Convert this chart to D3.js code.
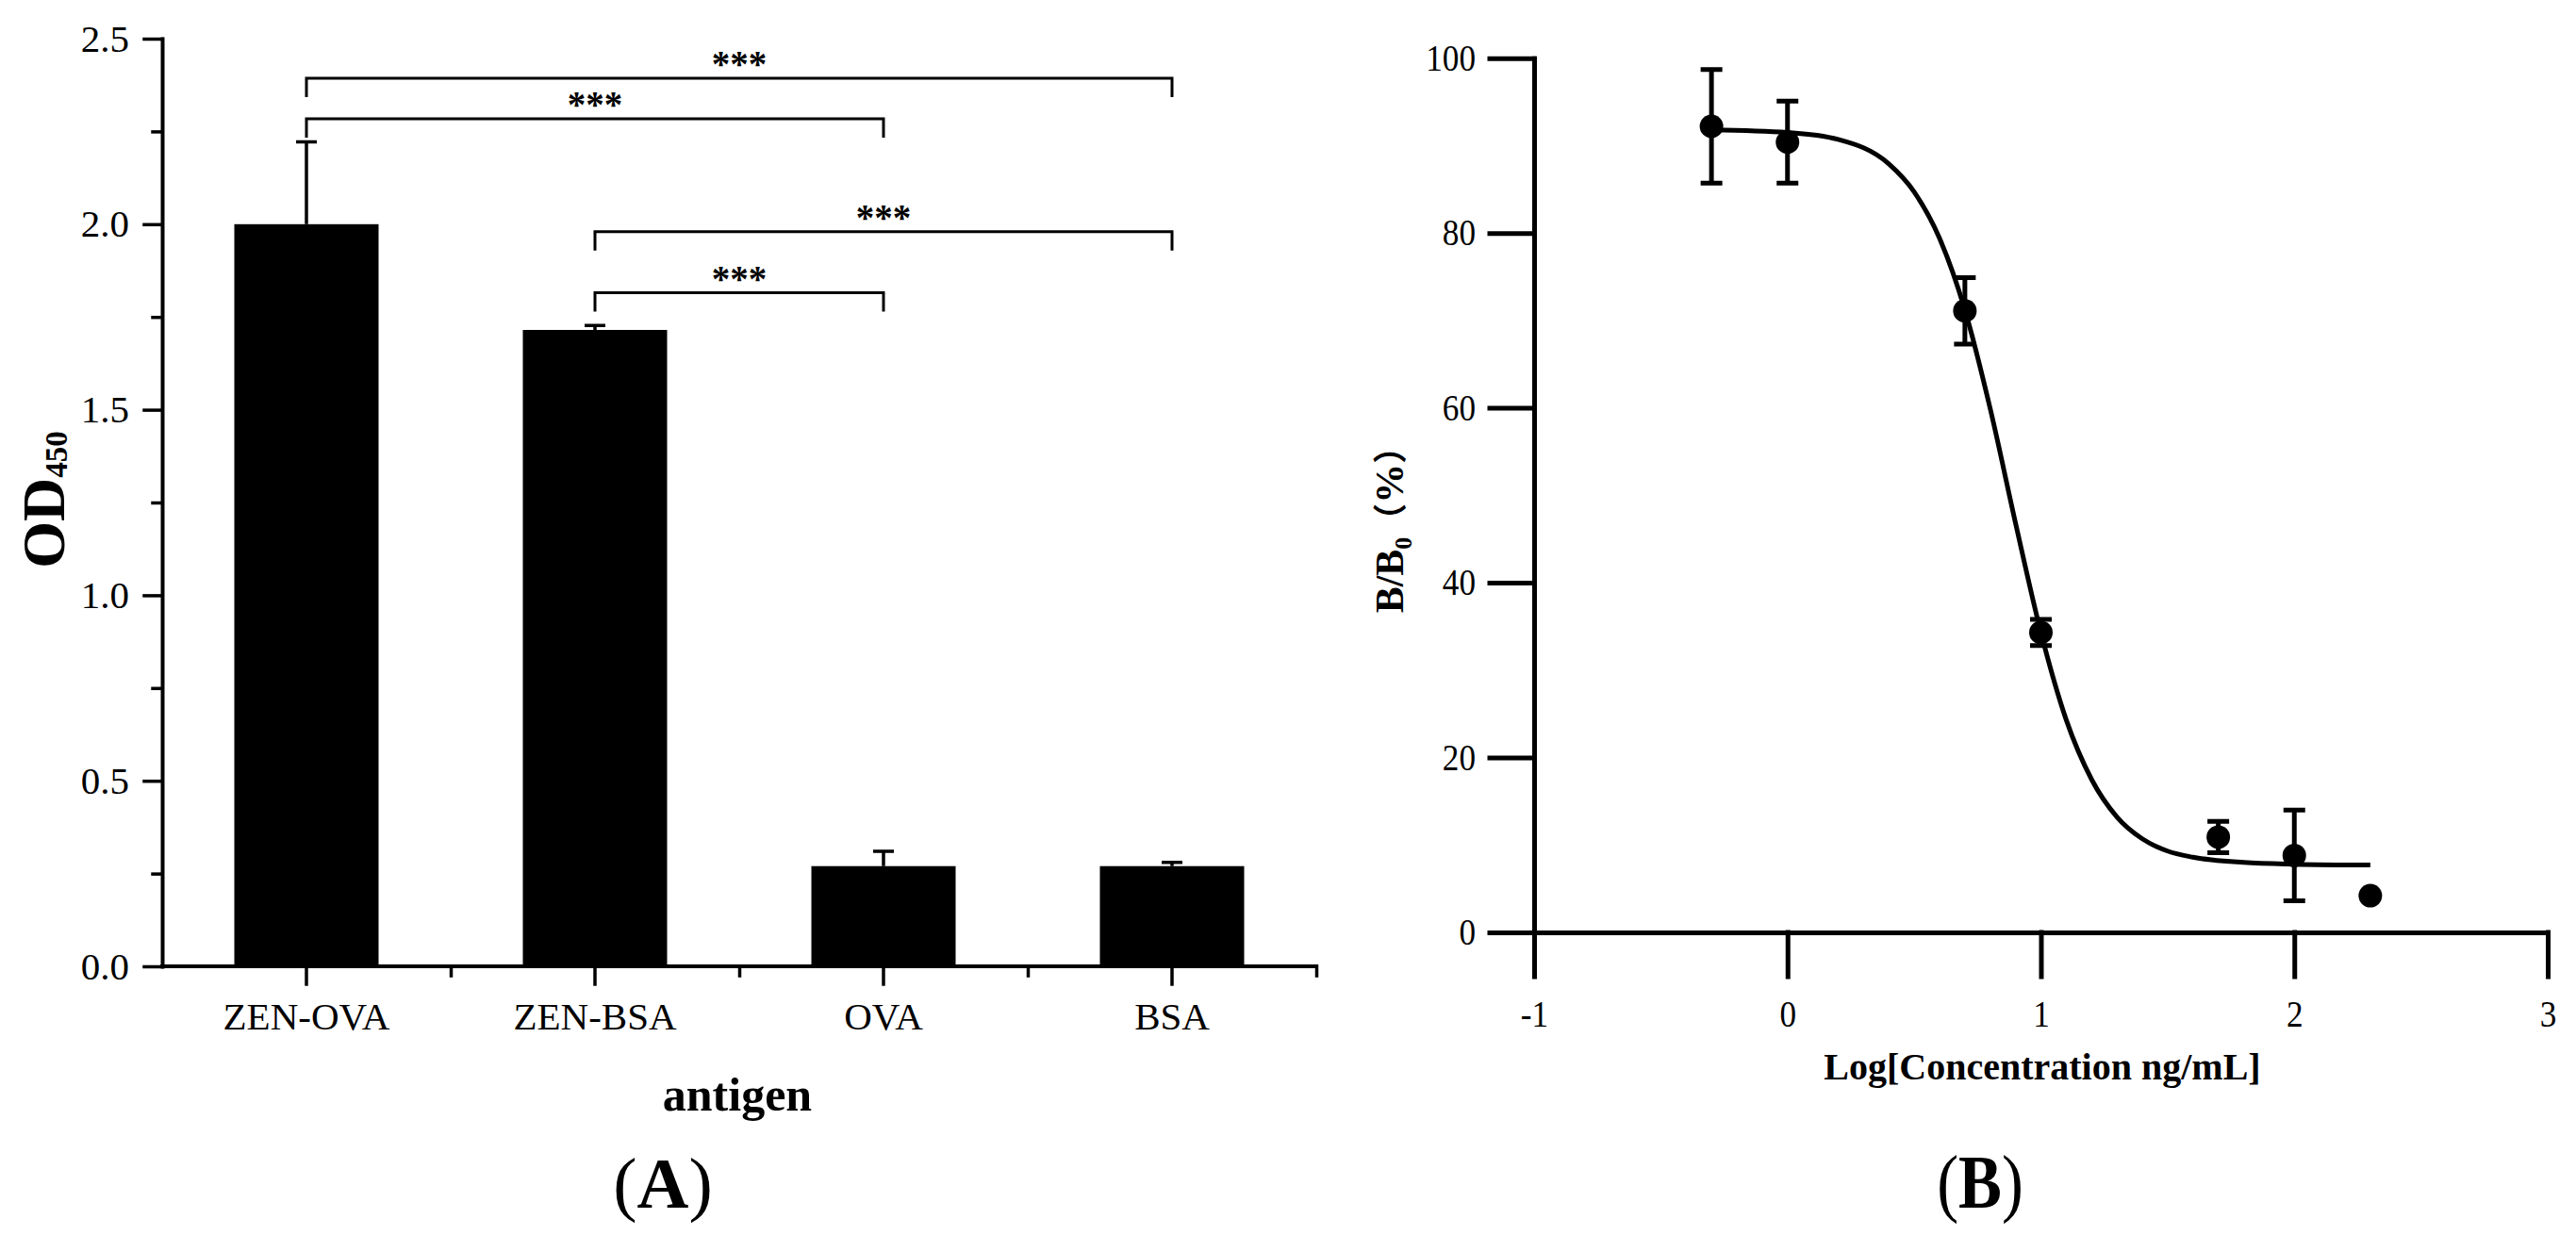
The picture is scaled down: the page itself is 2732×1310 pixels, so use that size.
<!DOCTYPE html>
<meta charset="utf-8">
<head>
    <style type="text/css">
        body { margin: 0; background: #fff; overflow: hidden; }
        text { font-family: "Liberation Serif", "Times New Roman", serif; fill: #000; }
        .axis path, .axis line { stroke: #000; stroke-linecap: square; }
        .bar { fill: #000; }
        .err, .bracket, .curve { fill: none; stroke: #000; }
        .dot { fill: #000; }
    </style>
</head>
<body>
    <script src="https://d3js.org/d3.v7.min.js"></script>
    <script>
        // ---- panel A data: OD450 per coating antigen ----
        var categories = ["ZEN-OVA", "ZEN-BSA", "OVA", "BSA"];
        var odMeans = [2.0, 1.715, 0.27, 0.27];
        var odErrors = [0.222, 0.012, 0.04, 0.01];
        var yTicksA = [0, 0.5, 1.0, 1.5, 2.0, 2.5];
        var yMinorA = [0.25, 0.75, 1.25, 1.75, 2.25];

        // significance brackets (from, to, height in OD units, label)
        var sigFrom = ["ZEN-OVA", "ZEN-OVA", "ZEN-BSA", "ZEN-BSA"];
        var sigTo = ["BSA", "OVA", "BSA", "OVA"];
        var sigLevel = [2.393, 2.284, 1.98, 1.815];
        var sigLabel = ["***", "***", "***", "***"];

        // ---- panel B data: inhibition curve ----
        var logConc = [-0.3, 0, 0.7, 1, 1.7, 2, 2.3];
        var bb0 = [92.2, 90.4, 71.1, 34.3, 10.9, 8.8, 4.2];
        var bb0Err = [6.5, 4.7, 3.8, 1.5, 1.8, 5.2, 0];
        // fitted curve
        var fitX = [-0.3, 0, 0.2, 0.4, 0.5, 0.6, 0.7, 0.8, 0.9, 1.0, 1.1, 1.2, 1.3, 1.4, 1.5, 1.6, 1.8, 2.0, 2.3];
        var fitY = [91.8, 91.5, 90.7, 87.9, 84.7, 79.4, 71.2, 59.9, 46.8, 34.3, 24.3, 17.5, 13.2, 10.7, 9.3, 8.6, 8.0, 7.8, 7.7];
        var xTicksB = [-1, 0, 1, 2, 3];
        var yTicksB = [0, 20, 40, 60, 80, 100];

        var W = 2732, H = 1310;
        var svg = d3.select("body").append("svg")
            .attr("width", W)
            .attr("height", H);

        // ================= Panel A =================
        var xA = d3.scaleBand()
            .domain(categories)
            .range([172, 1396])
            .paddingInner(0.5)
            .paddingOuter(0.25);
        var xIndexA = d3.scaleLinear().domain([0, categories.length]).range([172, 1396]);
        var yA = d3.scaleLinear().domain([0, 2.5]).range([1025, 41]);

        var gA = svg.append("g");

        // bars
        gA.selectAll(".bar")
            .data(categories)
            .enter().append("rect")
            .attr("class", "bar")
            .attr("x", function (d) { return xA(d); })
            .attr("width", xA.bandwidth())
            .attr("y", function (d, i) { return yA(odMeans[i]); })
            .attr("height", function (d, i) { return yA(0) - yA(odMeans[i]); });

        // upper error bars
        gA.selectAll(".errA")
            .data(categories)
            .enter().append("path")
            .attr("class", "err")
            .attr("stroke-width", 3.5)
            .attr("d", function (d, i) {
                var cx = xA(d) + xA.bandwidth() / 2;
                var y0 = yA(odMeans[i]), y1 = yA(odMeans[i] + odErrors[i]);
                return "M" + cx + "," + y0 + "V" + y1 + "M" + (cx - 11) + "," + y1 + "H" + (cx + 11);
            });

        // y axis
        gA.append("g")
            .attr("class", "axis")
            .attr("transform", "translate(172,0)")
            .call(d3.axisLeft(yA).tickValues(yTicksA).tickFormat(d3.format(".1f"))
                .tickSize(19).tickPadding(16).tickSizeOuter(0));
        gA.append("g")
            .attr("class", "axis minor")
            .attr("transform", "translate(172,0)")
            .call(d3.axisLeft(yA).tickValues(yMinorA).tickFormat("").tickSize(10).tickSizeOuter(0))
            .select(".domain").remove();

        // x axis
        var xAxisA = gA.append("g")
            .attr("class", "axis")
            .attr("transform", "translate(0,1025)")
            .call(d3.axisBottom(xA).tickSize(19).tickPadding(19).tickSizeOuter(0));
        xAxisA.select(".domain").attr("d", "M172,0H1396");
        gA.append("g")
            .attr("class", "axis minor")
            .attr("transform", "translate(0,1025)")
            .call(d3.axisBottom(xIndexA).tickValues(d3.range(1, categories.length + 1)).tickFormat("").tickSize(10).tickSizeOuter(0))
            .select(".domain").remove();

        gA.selectAll(".axis path").attr("stroke-width", 4);
        gA.selectAll(".axis line").attr("stroke-width", 3.5);
        gA.selectAll(".axis").attr("font-size", null).attr("font-family", null);
        gA.selectAll(".axis text").style("font-size", "41px");

        // significance brackets
        var leg = 20;
        sigFrom.forEach(function (f, i) {
            var x1 = xA(f) + xA.bandwidth() / 2;
            var x2 = xA(sigTo[i]) + xA.bandwidth() / 2;
            var y = yA(sigLevel[i]);
            gA.append("path")
                .attr("class", "bracket")
                .attr("stroke-width", 3)
                .attr("d", "M" + x1 + "," + (y + leg) + "V" + y + "H" + x2 + "V" + (y + leg));
            gA.append("text")
                .attr("x", (x1 + x2) / 2)
                .attr("y", y - 2)
                .attr("text-anchor", "middle")
                .style("font-size", "39px")
                .style("font-weight", "bold")
                .text(sigLabel[i]);
        });

        // axis titles
        var odLabel = gA.append("text")
            .attr("transform", "translate(68,530) rotate(-90)")
            .attr("text-anchor", "middle")
            .style("font-weight", "bold")
            .style("font-size", "64px");
        odLabel.append("tspan").text("OD");
        odLabel.append("tspan").attr("dy", 3).style("font-size", "33px").text("450");

        gA.append("text")
            .attr("x", 782)
            .attr("y", 1178)
            .attr("text-anchor", "middle")
            .style("font-weight", "bold")
            .style("font-size", "50px")
            .text("antigen");

        var tagA = gA.append("text")
            .attr("x", 703)
            .attr("y", 1281)
            .attr("text-anchor", "middle")
            .style("font-size", "76px");
        tagA.append("tspan").text("(");
        tagA.append("tspan").style("font-weight", "bold").text("A");
        tagA.append("tspan").text(")");

        // ================= Panel B =================
        var xB = d3.scaleLinear().domain([-1, 3]).range([1627, 2702]);
        var yB = d3.scaleLinear().domain([0, 100]).range([989, 61.7]);
        var gB = svg.append("g");

        gB.append("g")
            .attr("class", "axis")
            .attr("transform", "translate(1627,0)")
            .call(d3.axisLeft(yB).tickValues(yTicksB).tickFormat(d3.format("d"))
                .tickSize(47).tickPadding(15).tickSizeOuter(0));
        gB.append("g")
            .attr("class", "axis")
            .attr("transform", "translate(0,989)")
            .call(d3.axisBottom(xB).tickValues(xTicksB).tickFormat(function (d) { return String(d); })
                .tickSize(47).tickPadding(25).tickSizeOuter(0));

        gB.selectAll(".axis path").attr("stroke-width", 5);
        gB.selectAll(".axis line").attr("stroke-width", 5);
        gB.selectAll(".axis").attr("font-size", null).attr("font-family", null);
        gB.selectAll(".axis text")
            .style("font-size", "40px")
            .each(function () {
                var w = this.getComputedTextLength();
                d3.select(this).attr("textLength", w * 0.88).attr("lengthAdjust", "spacingAndGlyphs");
            });

        // fitted curve
        var line = d3.line()
            .x(function (d, i) { return xB(fitX[i]); })
            .y(function (d) { return yB(d); })
            .curve(d3.curveMonotoneX);
        gB.append("path")
            .datum(fitY)
            .attr("class", "curve")
            .attr("stroke-width", 5)
            .attr("d", line);

        // error bars
        gB.selectAll(".errB")
            .data(bb0)
            .enter().append("path")
            .attr("class", "err")
            .attr("stroke-width", 5)
            .attr("d", function (d, i) {
                if (!bb0Err[i]) return null;
                var cx = xB(logConc[i]);
                var yt = yB(d + bb0Err[i]), yb = yB(d - bb0Err[i]);
                return "M" + cx + "," + yt + "V" + yb +
                    "M" + (cx - 11.5) + "," + yt + "H" + (cx + 11.5) +
                    "M" + (cx - 11.5) + "," + yb + "H" + (cx + 11.5);
            });

        // points
        gB.selectAll(".dot")
            .data(bb0)
            .enter().append("circle")
            .attr("class", "dot")
            .attr("cx", function (d, i) { return xB(logConc[i]); })
            .attr("cy", function (d) { return yB(d); })
            .attr("r", 12.5);

        // axis titles
        var bLabel = gB.append("text")
            .attr("transform", "translate(1488,553) rotate(-90)")
            .attr("text-anchor", "middle")
            .style("font-weight", "bold")
            .style("font-size", "42px");
        bLabel.append("tspan").text("B/B");
        bLabel.append("tspan").attr("dy", 9).style("font-size", "26px").text("0");
        bLabel.append("tspan").attr("dy", -9).style("font-size", "36px")
            .style("font-family", "'Noto Sans CJK SC'").text("（");
        bLabel.append("tspan").style("font-size", "42px").text("%");
        bLabel.append("tspan").style("font-size", "36px")
            .style("font-family", "'Noto Sans CJK SC'").text("）");

        gB.append("text")
            .attr("x", 2166)
            .attr("y", 1145)
            .attr("text-anchor", "middle")
            .style("font-weight", "bold")
            .style("font-size", "40px")
            .text("Log[Concentration ng/mL]");

        // panel tag, slightly condensed like the reference
        var tagB = gB.append("text")
            .attr("transform", "translate(2100,1281) scale(0.86,1)")
            .attr("text-anchor", "middle")
            .style("font-size", "80px");
        tagB.append("tspan").text("(");
        tagB.append("tspan").style("font-weight", "bold").text("B");
        tagB.append("tspan").text(")");
    </script>
</body>
